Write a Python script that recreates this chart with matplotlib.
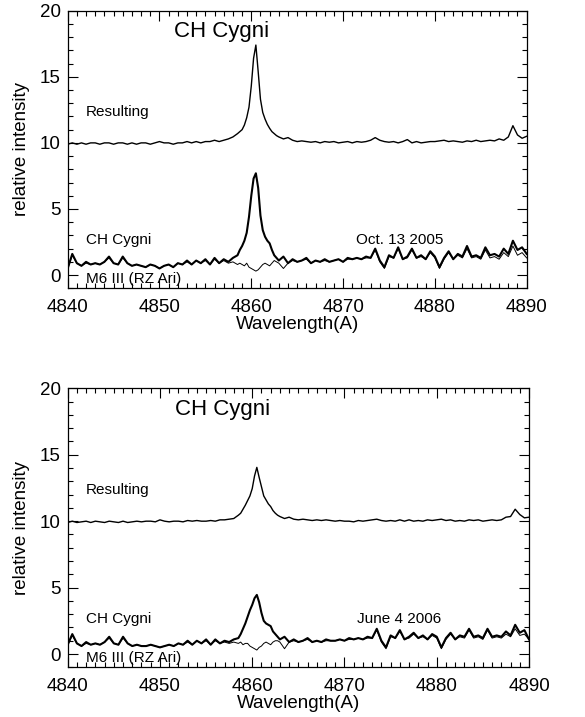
import numpy as np
import matplotlib
matplotlib.use("Agg")
import matplotlib.pyplot as plt
from matplotlib.ticker import MultipleLocator

plt.rcParams['font.family'] = ['Liberation Sans', 'DejaVu Sans']

# wavelength sampling (A): 0.5 A steps, 0.25 A across the H-beta line
wave = np.concatenate([np.arange(4840.0, 4858.51, 0.5),
                       np.arange(4858.75, 4862.76, 0.25),
                       np.arange(4863.0, 4890.01, 0.5)])

# ---- Oct. 13 2005 ----
ch_2005 = [0.5, 1.6, 0.9, 0.7, 1.0, 0.8, 0.9, 0.8, 1.0, 1.4,
           0.9, 0.8, 1.4, 0.9, 0.7, 0.8, 0.7, 0.6, 0.8, 0.7,
           0.5, 0.7, 0.8, 0.6, 0.9, 0.8, 1.1, 0.8, 1.1, 0.9,
           1.2, 0.8, 1.3, 0.9, 1.2, 1.0, 1.3, 1.5,
           # line core
           1.9, 2.2, 2.6, 3.2, 4.4, 6.0, 7.3, 7.7, 6.6, 4.5,
           3.4, 2.9, 2.6, 2.4, 1.9, 1.5, 1.3,
           # red side
           1.1, 1.4, 0.9, 1.2, 1.0, 1.1, 1.3, 0.9, 1.1, 1.0,
           1.2, 1.0, 1.1, 1.2, 1.0, 1.3, 1.2, 1.3, 1.2, 1.4,
           1.3, 2.0, 1.1, 0.6, 1.5, 1.3, 2.1, 1.2, 1.4, 2.0,
           1.3, 1.5, 1.2, 1.8, 1.4, 0.6, 1.3, 1.8, 1.2, 1.6,
           1.4, 2.2, 1.4, 1.5, 1.3, 2.1, 1.5, 1.6, 1.4, 2.0,
           1.6, 2.6, 1.9, 2.1, 1.6]
m6_2005 = [0.5, 1.5, 0.9, 0.7, 0.9, 0.8, 0.9, 0.8, 1.0, 1.3,
           0.9, 0.8, 1.3, 0.9, 0.7, 0.8, 0.7, 0.6, 0.8, 0.7,
           0.5, 0.7, 0.8, 0.6, 0.9, 0.8, 1.0, 0.8, 1.1, 0.9,
           1.1, 0.8, 1.2, 0.9, 1.1, 0.9, 1.0, 0.8,
           0.9, 0.8, 0.7, 0.9, 0.6, 0.5, 0.4, 0.3, 0.4, 0.6,
           0.8, 0.9, 0.8, 0.7, 0.9, 1.1, 1.0,
           0.9, 0.5, 0.9, 1.1, 1.0, 1.1, 1.2, 0.9, 1.1, 1.0,
           1.1, 1.0, 1.1, 1.2, 1.0, 1.2, 1.2, 1.3, 1.2, 1.3,
           1.3, 1.9, 1.0, 0.5, 1.4, 1.3, 2.0, 1.2, 1.3, 1.9,
           1.3, 1.4, 1.2, 1.7, 1.3, 0.5, 1.2, 1.7, 1.2, 1.5,
           1.3, 2.0, 1.3, 1.4, 1.2, 1.9, 1.3, 1.4, 1.2, 1.7,
           1.4, 2.2, 1.5, 1.7, 1.3]
res_2005 = [9.9, 10.0, 9.9, 10.0, 9.9, 10.0, 10.0, 9.9, 10.0, 10.0,
            9.9, 10.0, 10.0, 9.9, 10.0, 9.9, 10.0, 10.0, 9.9, 10.0,
            10.1, 10.0, 10.0, 9.9, 10.0, 10.0, 10.1, 10.0, 10.1, 10.0,
            10.1, 10.1, 10.2, 10.1, 10.2, 10.3, 10.45, 10.7,
            10.85, 11.0, 11.35, 11.9, 12.7, 14.3, 16.4, 17.4, 15.4, 13.3,
            12.3, 11.8, 11.4, 11.1, 10.85, 10.7, 10.55,
            10.45, 10.3, 10.4, 10.2, 10.1, 10.15, 10.1, 10.05, 10.1, 10.0,
            10.1, 10.05, 10.1, 10.0, 10.05, 10.1, 10.0, 10.1, 10.05, 10.1,
            10.2, 10.4, 10.2, 10.1, 10.05, 10.1, 10.0, 10.1, 10.25, 10.0,
            10.1, 10.0, 10.05, 10.1, 10.1, 10.15, 10.2, 10.1, 10.15, 10.1,
            10.05, 10.15, 10.1, 10.2, 10.1, 10.15, 10.2, 10.15, 10.3, 10.2,
            10.45, 11.3, 10.6, 10.35, 10.5]

# ---- June 4 2006 ----
ch_2006 = [0.7, 1.5, 0.8, 0.6, 0.9, 0.7, 0.8, 0.7, 0.9, 1.3,
           0.8, 0.7, 1.3, 0.8, 0.6, 0.7, 0.6, 0.6, 0.7, 0.6,
           0.5, 0.6, 0.7, 0.6, 0.8, 0.7, 1.0, 0.7, 1.0, 0.8,
           1.1, 0.7, 1.1, 0.8, 1.0, 0.9, 1.1, 1.2,
           1.5, 1.9, 2.3, 2.8, 3.3, 3.7, 4.2, 4.45, 3.9, 3.1,
           2.5, 2.3, 2.2, 2.1, 1.7, 1.5, 1.3,
           1.1, 1.3, 0.9, 1.1, 0.9, 1.0, 1.2, 0.9, 1.0, 0.9,
           1.1, 1.0, 1.0, 1.1, 1.0, 1.2, 1.1, 1.2, 1.1, 1.3,
           1.2, 1.9, 1.0, 0.5, 1.4, 1.2, 1.8, 1.1, 1.3, 1.6,
           1.2, 1.4, 1.1, 1.5, 1.3, 0.5, 1.2, 1.6, 1.1, 1.4,
           1.3, 1.9, 1.3, 1.4, 1.2, 1.9, 1.3, 1.4, 1.3, 1.7,
           1.4, 2.2, 1.6, 1.8, 1.1]
m6_2006 = [0.7, 1.4, 0.8, 0.6, 0.8, 0.7, 0.8, 0.7, 0.9, 1.2,
           0.8, 0.7, 1.2, 0.8, 0.6, 0.7, 0.6, 0.6, 0.7, 0.6,
           0.5, 0.6, 0.7, 0.6, 0.8, 0.7, 0.9, 0.7, 1.0, 0.8,
           1.0, 0.7, 1.0, 0.8, 0.9, 0.8, 0.9, 0.8,
           0.9, 0.7, 0.8, 0.8, 0.6, 0.5, 0.4, 0.3, 0.5, 0.6,
           0.8, 0.9, 0.8, 0.7, 0.9, 1.0, 1.0,
           0.9, 0.4, 0.9, 1.0, 0.9, 1.0, 1.1, 0.9, 1.0, 0.9,
           1.0, 1.0, 1.0, 1.1, 1.0, 1.1, 1.1, 1.2, 1.1, 1.2,
           1.2, 1.8, 0.9, 0.4, 1.3, 1.2, 1.7, 1.1, 1.2, 1.5,
           1.2, 1.3, 1.1, 1.4, 1.2, 0.4, 1.1, 1.5, 1.1, 1.3,
           1.2, 1.8, 1.2, 1.3, 1.1, 1.8, 1.2, 1.3, 1.2, 1.5,
           1.3, 1.9, 1.4, 1.5, 1.1]
res_2006 = [9.9, 10.0, 9.9, 9.95, 10.0, 9.9, 10.0, 9.95, 9.9, 10.0,
            9.95, 9.9, 10.0, 9.9, 9.95, 10.0, 9.95, 10.0, 10.0, 9.95,
            10.1, 10.0, 9.95, 10.0, 10.0, 9.95, 10.05, 10.0, 10.05, 10.0,
            10.0, 10.05, 10.0, 10.1, 10.1, 10.15, 10.2, 10.45,
            10.6, 10.9, 11.2, 11.55, 11.9, 12.45, 13.4, 14.05, 13.3, 12.6,
            11.9, 11.6, 11.3, 11.1, 10.8, 10.6, 10.45,
            10.35, 10.2, 10.3, 10.15, 10.1, 10.15, 10.1, 10.05, 10.1, 10.05,
            10.1, 10.05, 10.0, 10.05, 10.0, 10.0, 9.95, 10.05, 10.0, 10.05,
            10.1, 10.15, 10.05, 10.0, 10.05, 10.0, 10.1, 10.0, 10.1, 10.0,
            10.05, 10.0, 10.1, 10.05, 10.1, 10.15, 10.05, 10.1, 10.0, 10.05,
            10.0, 10.1, 10.05, 10.1, 10.0, 10.05, 10.1, 10.05, 10.1, 10.3,
            10.35, 10.9, 10.5, 10.25, 10.3]

panels = [
    (ch_2005, m6_2005, res_2005, "Oct. 13 2005"),
    (ch_2006, m6_2006, res_2006, "June 4 2006"),
]

fig = plt.figure(figsize=(5.85, 7.17), dpi=100)
boxes = [[0.1157, 0.5979, 0.7846, 0.3872],
         [0.1157, 0.0693, 0.7886, 0.3891]]

for box, (ch, m6, res, date) in zip(boxes, panels):
    ax = fig.add_axes(box)
    ax.plot(wave, m6, color='black', lw=0.7)
    ax.plot(wave, ch, color='black', lw=1.5)
    ax.plot(wave, res, color='black', lw=1.0)

    ax.set_xlim(4840, 4890)
    ax.set_ylim(-1, 20)
    ax.xaxis.set_major_locator(MultipleLocator(10))
    ax.xaxis.set_minor_locator(MultipleLocator(1))
    ax.yaxis.set_major_locator(MultipleLocator(5))
    ax.yaxis.set_minor_locator(MultipleLocator(1))
    ax.tick_params(which='both', direction='in', top=True, right=True,
                   width=0.8, labelsize=13.5)
    ax.tick_params(which='major', length=7)
    ax.tick_params(axis='x', which='major', pad=8)
    ax.tick_params(axis='y', which='major', pad=5)
    ax.tick_params(which='minor', length=3.5)
    for s in ax.spines.values():
        s.set_linewidth(0.9)

    ax.text(4856.8, 18.4, "CH Cygni", fontsize=16, ha='center', va='center')
    ax.text(4842.0, 12.33, "Resulting", fontsize=11, va='center')
    ax.text(4842.0, 2.64, "CH Cygni", fontsize=11, va='center')
    ax.text(4842.0, -0.27, "M6 III (RZ Ari)", fontsize=11, va='center')
    ax.text(4871.4, 2.63, date, fontsize=11, va='center')

    ax.set_xlabel("Wavelength(A)", fontsize=13.5, labelpad=0)
    ax.set_ylabel("relative intensity", fontsize=13.5, labelpad=7)

fig.savefig("out.png", dpi=100)
